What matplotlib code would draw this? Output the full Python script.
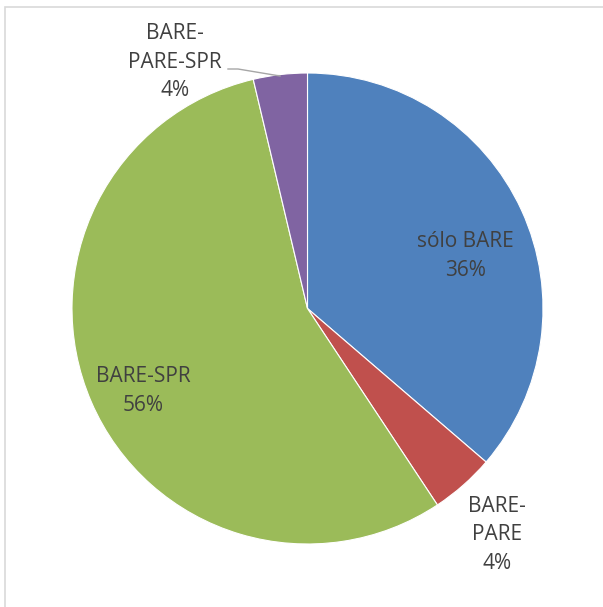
import matplotlib
matplotlib.use("Agg")
import matplotlib.pyplot as plt
from matplotlib.patches import Rectangle

categories = ["sólo BARE", "BARE-\nPARE", "BARE-SPR", "BARE-\nPARE-SPR"]
values = [36.3, 4.4, 55.6, 3.7]
colors = ["#4F81BD", "#C0504D", "#9BBB59", "#8064A2"]

W, H = 603, 607
fig = plt.figure(figsize=(W / 100, H / 100), dpi=100)
fig.patch.set_facecolor("white")

cx, cy, r = 307.5, 308.5, 235.5
ax = fig.add_axes([(cx - r) / W, (H - cy - r) / H, 2 * r / W, 2 * r / H])

ax.pie(values, colors=colors, startangle=90, counterclock=False, radius=1,
       wedgeprops=dict(edgecolor="white", linewidth=0.8))
ax.set_xlim(-1, 1)
ax.set_ylim(-1, 1)
ax.set_aspect("equal")
ax.axis("off")

def p2d(px, py):
    return ((px - cx) / r, (cy - py) / r)

total = sum(values)
label_pos = [(465, 256), (497, 535), (143, 391), (175, 62)]
for cat, v, (px, py) in zip(categories, values, label_pos):
    x, y = p2d(px, py)
    ax.text(x, y, f"{cat}\n{round(v / total * 100):d}%", ha="center", va="center",
            fontsize=15, color="#404040", family=["Open Sans", "DejaVu Sans"],
            linespacing=1.45, clip_on=False)

# leader line for the small purple slice
pts = [p2d(228, 69), p2d(238, 69), p2d(280, 76)]
ax.plot([p[0] for p in pts], [p[1] for p in pts], color="#A6A6A6",
        linewidth=1, clip_on=False)

# chart border
fig.patches.append(Rectangle((5 / W, -0.05), 1.2, (H - 7) / H + 0.05,
                             transform=fig.transFigure, fill=False,
                             edgecolor="#D9D9D9", linewidth=1.2))

fig.savefig("out.png", dpi=100, facecolor="white")
